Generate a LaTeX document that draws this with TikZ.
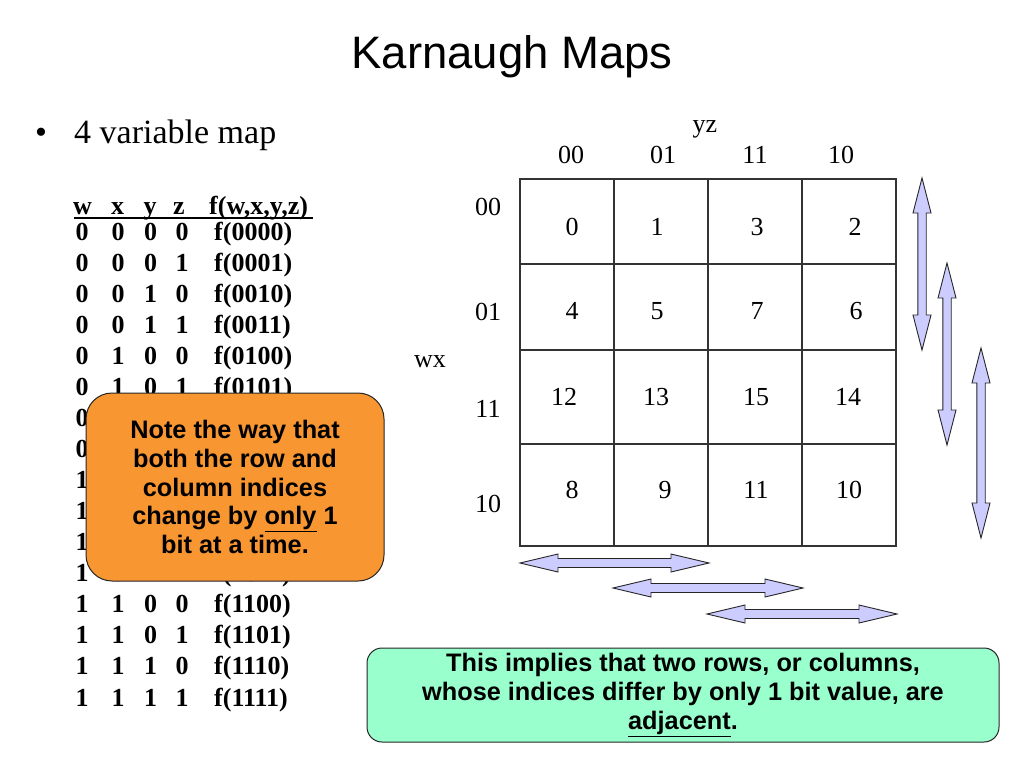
\documentclass[tikz,border=0pt]{standalone}
\usepackage{fontspec}
\setmainfont{Liberation Serif}
\newfontfamily\arialf{Liberation Sans}
\definecolor{orangefill}{RGB}{248,150,50}
\definecolor{greenfill}{RGB}{153,255,204}
\definecolor{arrowfill}{RGB}{204,204,255}
\newcommand{\harr}[3]{%
  \filldraw[arrowsty] (#1,#3) -- (#1+38,#3-9) -- (#1+38,#3-4.5) -- (#2-38,#3-4.5) -- (#2-38,#3-9) -- (#2,#3)
   -- (#2-38,#3+9) -- (#2-38,#3+4.5) -- (#1+38,#3+4.5) -- (#1+38,#3+9) -- cycle;}
\newcommand{\varr}[3]{%
  \filldraw[arrowsty] (#1,#2) -- (#1-9,#2+35) -- (#1-4.2,#2+35) -- (#1-4.2,#3-35) -- (#1-9,#3-35) -- (#1,#3)
   -- (#1+9,#3-35) -- (#1+4.2,#3-35) -- (#1+4.2,#2+35) -- (#1+9,#2+35) -- cycle;}
\begin{document}
\begin{tikzpicture}[x=1pt,y=-1pt,
  tbl/.style={font=\bfseries\fontsize{26}{26}\selectfont, inner sep=0pt, anchor=base},
  tblf/.style={tbl, anchor=base west},
  kmap/.style={font=\fontsize{26}{26}\selectfont, inner sep=0pt, anchor=base},
  gridline/.style={draw=black!80, line width=1.3pt},
  arrowsty/.style={fill=arrowfill, draw=black!85, line width=0.9pt, line join=miter},
  callout/.style={draw=black!85, line width=1pt, rounded corners=#1, inner sep=0pt,
     font=\arialf\bfseries\fontsize{25.3}{28.6}\selectfont, align=center, text=black}]
\useasboundingbox[fill=white] (0,0) rectangle (1024,768);

% title and bullet
\node[font=\arialf\fontsize{45.5}{45.5}\selectfont, inner sep=0pt, anchor=base] (title) at (512,68) {Karnaugh Maps};
\node[font=\fontsize{34}{34}\selectfont, inner sep=0pt, anchor=base] (bullet) at (41,143) {•};
\node[font=\fontsize{34}{34}\selectfont, inner sep=0pt, anchor=base west] (subtitle) at (74,143) {4 variable map};

% truth table header
\node[tbl] (hw) at (82.5,214) {w};
\node[tbl] (hx) at (117.5,214) {x};
\node[tbl] (hy) at (150,214) {y};
\node[tbl] (hz) at (179,214) {z};
\node[tblf] (hf) at (209,214) {f(w,x,y,z)};
\coordinate (ulA) at (74,217.8);
\coordinate (ulB) at (313,217.8);
\draw[line width=2.2pt, black] (ulA) -- (ulB);

% truth table rows
\foreach \a/\b/\c/\d [count=\i from 0] in {0/0/0/0,0/0/0/1,0/0/1/0,0/0/1/1,0/1/0/0,0/1/0/1,0/1/1/0,0/1/1/1,
   1/0/0/0,1/0/0/1,1/0/1/0,1/0/1/1,1/1/0/0,1/1/0/1,1/1/1/0,1/1/1/1}{
  \pgfmathsetmacro{\yy}{240+\i*31.07}
  \node[tbl] (ta\i) at (82,\yy) {\a};
  \node[tbl] (tb\i) at (118,\yy) {\b};
  \node[tbl] (tc\i) at (150.5,\yy) {\c};
  \node[tbl] (td\i) at (182,\yy) {\d};
  \node[tblf] (tf\i) at (214,\yy) {f(\a\b\c\d)};
}

% orange note
\node[callout=26pt, fill=orangefill, minimum width=298pt, minimum height=188pt] (note) at (235,487)
  {Note the way that\\both the row and\\column indices\\change by \underline{only} 1\\bit at a time.};

% K-map grid
\draw[gridline] (520,179) rectangle (896,546);
\foreach \xx in {614,708,802} \draw[gridline] (\xx,179) -- (\xx,546);
\foreach \yy in {264,350,444} \draw[gridline] (520,\yy) -- (896,\yy);

% column labels
\node[kmap] (yz) at (705,132) {yz};
\node[kmap] (c00) at (571,163) {00};
\node[kmap] (c01) at (663,163) {01};
\node[kmap] (c11) at (755,163) {11};
\node[kmap] (c10) at (841,163) {10};
% row labels
\node[kmap] (wx) at (430,367) {wx};
\node[kmap] (r00) at (488,215) {00};
\node[kmap] (r01) at (488,320) {01};
\node[kmap] (r11) at (488,417) {11};
\node[kmap] (r10) at (488,512) {10};

% cell numbers
\node[kmap] (m0) at (572,235) {0};
\node[kmap] (m1) at (657,235) {1};
\node[kmap] (m3) at (757,235) {3};
\node[kmap] (m2) at (855,235) {2};
\node[kmap] (m4) at (572,319) {4};
\node[kmap] (m5) at (657,319) {5};
\node[kmap] (m7) at (757,319) {7};
\node[kmap] (m6) at (856,319) {6};
\node[kmap] (m12) at (564,405) {12};
\node[kmap] (m13) at (656,405) {13};
\node[kmap] (m15) at (756,405) {15};
\node[kmap] (m14) at (848,405) {14};
\node[kmap] (m8) at (572,498) {8};
\node[kmap] (m9) at (665,498) {9};
\node[kmap] (m11) at (756,498) {11};
\node[kmap] (m10) at (849,498) {10};

% adjacency arrows
\harr{520}{709}{563}
\harr{613}{803}{588}
\harr{707}{897}{614}
\varr{922}{178}{350}
\varr{947}{263}{445}
\varr{981}{348}{538}

% green note
\node[callout=15pt, fill=greenfill, minimum width=632pt, minimum height=94pt] (implies) at (683,695)
  {This implies that two rows, or columns,\\whose indices differ by only 1 bit value, are\\\underline{adjacent}.};
\end{tikzpicture}
\end{document}
